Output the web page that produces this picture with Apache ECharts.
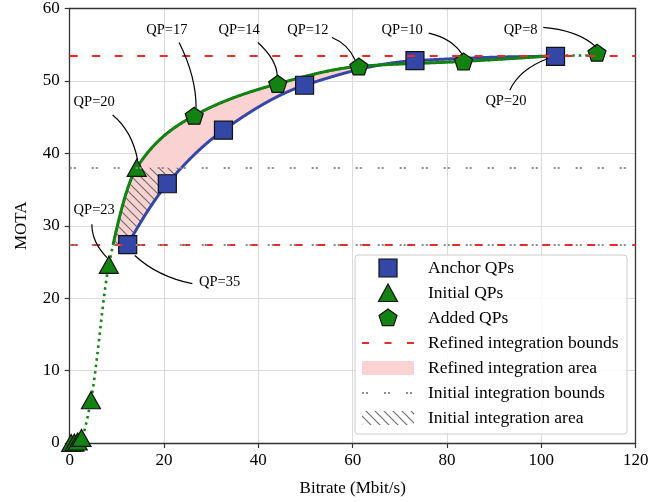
<!DOCTYPE html>
<html><head><meta charset="utf-8">
<script src="https://cdn.jsdelivr.net/npm/echarts@6/dist/echarts.min.js"></script>
<style>html,body{margin:0;padding:0;background:#fff}#c{width:672px;height:502px}</style>
</head><body><div id="c"></div><script>
// ---------------- data ----------------
const anchorRate = [12.3, 20.7, 32.6, 49.8, 73.2, 103.0];
const anchorMota = [27.4, 35.8, 43.2, 49.4, 52.8, 53.4];
const initialRate = [0.3, 1.0, 1.7, 2.5, 4.5, 8.3, 14.2];
const initialMota = [0.0, 0.05, 0.2, 0.7, 5.9, 24.6, 38.0];
const addedRate = [26.4, 44.1, 61.3, 83.5, 111.8];
const addedMota = [45.2, 49.6, 52.0, 52.7, 53.9];
const refinedBounds = [27.4, 53.5];
const initialBounds = [27.4, 38.0];
const xTicks = [0, 20, 40, 60, 80, 100, 120];
const yTicks = [0, 10, 20, 30, 40, 50, 60];
// annotations: label, text position, arrow start, arrow bend, arrow end (data coords)
const annoLabels = ['QP=17', 'QP=14', 'QP=12', 'QP=10', 'QP=8', 'QP=20', 'QP=20', 'QP=23', 'QP=35'];
const annoText  = [[20.6,57.0],[35.9,57.0],[50.5,57.0],[70.5,57.0],[95.6,57.0],[92.5,47.2],[5.2,47.1],[5.2,32.1],[31.8,22.2]];
const annoStart = [[23.2,55.3],[39.9,55.3],[55.6,56.0],[76.1,56.6],[100.4,57.4],[93.3,48.7],[9.1,45.3],[4.7,30.2],[26.0,22.0]];
const annoBend  = [[26.8,50.6],[43.9,52.9],[59.0,55.1],[81.0,55.9],[107.8,57.0],[95.3,51.6],[13.2,43.1],[4.7,27.7],[18.6,23.0]];
const annoEnd   = [[26.8,46.3],[44.0,50.7],[60.5,52.9],[83.3,53.6],[111.6,54.7],[101.4,53.1],[14.4,39.1],[7.9,25.6],[13.8,25.9]];
const legendNames = ['Anchor QPs','Initial QPs','Added QPs','Refined integration bounds','Refined integration area','Initial integration bounds','Initial integration area'];

// ---------------- styles ----------------
const FONT = '"Liberation Serif", "Times New Roman", serif';
const GREEN = '#128212', BLUE = '#3446a6', RED = '#e52b2b', PINK = '#f9d2d1', GRAY = '#8c8c8c';
const RED_DASH = [8, 14.5], GRAY_DOT = [2, 2, 2, 16], GREEN_DOT = [2.5, 4];

function hatchCanvas() {
  const s = 9, c = document.createElement('canvas');
  c.width = s; c.height = s;
  const g = c.getContext('2d');
  g.strokeStyle = '#707070'; g.lineWidth = 1.2;
  g.beginPath();
  g.moveTo(-1, -1); g.lineTo(s + 1, s + 1);
  g.moveTo(s - 1, -1); g.lineTo(s + 1, 1);
  g.moveTo(-1, s - 1); g.lineTo(1, s + 1);
  g.stroke();
  return c;
}
const HATCH = { image: hatchCanvas(), repeat: 'repeat' };

function pchip(xs, ys) {
  const n = xs.length, h = [], d = [];
  for (let i = 0; i < n - 1; i++) { h[i] = xs[i + 1] - xs[i]; d[i] = (ys[i + 1] - ys[i]) / h[i]; }
  const m = new Array(n).fill(0);
  for (let i = 1; i < n - 1; i++) {
    if (d[i - 1] * d[i] <= 0) m[i] = 0;
    else { const w1 = 2 * h[i] + h[i - 1], w2 = h[i] + 2 * h[i - 1]; m[i] = (w1 + w2) / (w1 / d[i - 1] + w2 / d[i]); }
  }
  const edge = (h0, h1, d0, d1) => {
    let mm = ((2 * h0 + h1) * d0 - h0 * d1) / (h0 + h1);
    if (Math.sign(mm) !== Math.sign(d0)) mm = 0;
    else if (Math.sign(d0) !== Math.sign(d1) && Math.abs(mm) > 3 * Math.abs(d0)) mm = 3 * d0;
    return mm;
  };
  m[0] = edge(h[0], h[1], d[0], d[1]);
  m[n - 1] = edge(h[n - 2], h[n - 3], d[n - 2], d[n - 3]);
  return function (x) {
    let i = 0; while (i < n - 2 && x > xs[i + 1]) i++;
    const t = (x - xs[i]) / h[i], t2 = t * t, t3 = t2 * t;
    return (2 * t3 - 3 * t2 + 1) * ys[i] + (t3 - 2 * t2 + t) * h[i] * m[i] + (-2 * t3 + 3 * t2) * ys[i + 1] + (t3 - t2) * h[i] * m[i + 1];
  };
}
function crossX(f, a, b, target) {
  for (let k = 0; k < 60; k++) { const mid = (a + b) / 2; if (f(mid) < target) a = mid; else b = mid; }
  return (a + b) / 2;
}
function samples(f, x0, x1) {
  const out = [], step = 0.05;
  for (let x = x0; x < x1; x += step) out.push([x, f(x)]);
  out.push([x1, f(x1)]);
  return out;
}

const greenPts = initialRate.map((x, i) => [x, initialMota[i]]).concat(addedRate.map((x, i) => [x, addedMota[i]])).sort((a, b) => a[0] - b[0]);
const greenX = greenPts.map(p => p[0]), greenY = greenPts.map(p => p[1]);

function renderCurves(params, api) {
  const gF = pchip(greenX, greenY), bF = pchip(anchorRate, anchorMota);
  const lo = refinedBounds[0], hi = refinedBounds[1], iHi = initialBounds[1];
  const xEnd = anchorRate[anchorRate.length - 1];
  const gAll = samples(gF, greenX[0], greenX[greenX.length - 1]);
  const gStart = crossX(gF, greenX[0], xEnd, lo);
  const gSolid = samples(gF, gStart, xEnd);
  const bAll = samples(bF, anchorRate[0], xEnd);
  const px = pts => pts.map(p => api.coord([p[0], Math.min(p[1], hi)]));
  const pinkPoly = gSolid.concat(bAll.slice().reverse());
  const gx38 = crossX(gF, gStart, xEnd, iHi), bx38 = crossX(bF, anchorRate[0], xEnd, iHi);
  const hatchPoly = samples(gF, gStart, gx38).concat(samples(bF, anchorRate[0], bx38).reverse());
  return {
    type: 'group', children: [
      { type: 'polygon', shape: { points: px(pinkPoly) }, style: { fill: PINK, stroke: null } },
      { type: 'polygon', shape: { points: px(hatchPoly) }, style: { fill: HATCH, stroke: null } },
      { type: 'polyline', shape: { points: px(gAll) }, style: { stroke: GREEN, lineWidth: 2.6, lineDash: GREEN_DOT, fill: null } },
      { type: 'polyline', shape: { points: px(bAll) }, style: { stroke: BLUE, lineWidth: 3, fill: null } },
      { type: 'polyline', shape: { points: px(gSolid) }, style: { stroke: GREEN, lineWidth: 3, fill: null } }
    ]
  };
}

function renderAnno(params, api) {
  const i = params.dataIndex;
  const t = api.coord(annoText[i]), s = api.coord(annoStart[i]), c = api.coord(annoBend[i]), e = api.coord(annoEnd[i]);
  return {
    type: 'group', children: [
      { type: 'bezierCurve', shape: { x1: s[0], y1: s[1], cpx1: c[0], cpy1: c[1], x2: e[0], y2: e[1] }, style: { stroke: '#000', lineWidth: 1.2, fill: null } },
      { type: 'text', style: { text: annoLabels[i], x: t[0], y: t[1], align: 'center', verticalAlign: 'middle', font: '14.5px ' + FONT, fill: '#000' } }
    ]
  };
}

const PENTAGON = 'path://M0,-1L0.951,-0.309L0.588,0.809L-0.588,0.809L-0.951,-0.309Z';
const markerStyle = (c) => ({ color: c, borderColor: '#111', borderWidth: 1.2, opacity: 1 });

// ---------------- legend (drawn as graphics) ----------------
const LX = 388, LT = 268, LS = 25, TX = 428;
const legendGraphics = [
  { type: 'rect', shape: { x: 355, y: 255, width: 272, height: 179, r: 3 }, style: { fill: 'rgba(255,255,255,0.85)', stroke: '#cccccc', lineWidth: 1 } },
  { type: 'rect', shape: { x: LX - 9, y: LT - 9, width: 18, height: 18 }, style: { fill: BLUE, stroke: '#111', lineWidth: 1.2 } },
  { type: 'polygon', shape: { points: [[LX, LT + LS - 9], [LX + 9.5, LT + LS + 8.5], [LX - 9.5, LT + LS + 8.5]] }, style: { fill: GREEN, stroke: '#111', lineWidth: 1.2 } },
  { type: 'polygon', shape: { points: [[LX, LT + 2 * LS - 9], [LX + 9, LT + 2 * LS - 2.5], [LX + 5.6, LT + 2 * LS + 7.6], [LX - 5.6, LT + 2 * LS + 7.6], [LX - 9, LT + 2 * LS - 2.5]] }, style: { fill: GREEN, stroke: '#111', lineWidth: 1.2 } },
  { type: 'line', shape: { x1: LX - 26, y1: LT + 3 * LS, x2: LX + 27, y2: LT + 3 * LS }, style: { stroke: RED, lineWidth: 2.2, lineDash: [7, 15.5] } },
  { type: 'rect', shape: { x: LX - 26, y: LT + 4 * LS - 7, width: 52, height: 14 }, style: { fill: PINK } },
  { type: 'line', shape: { x1: LX - 26, y1: LT + 5 * LS, x2: LX + 27, y2: LT + 5 * LS }, style: { stroke: GRAY, lineWidth: 2, lineDash: GRAY_DOT } },
  { type: 'rect', shape: { x: LX - 26, y: LT + 6 * LS - 7, width: 52, height: 14 }, style: { fill: HATCH } }
];
legendNames.forEach((n, i) => legendGraphics.push({ type: 'text', style: { text: n, x: TX, y: LT + i * LS, verticalAlign: 'middle', font: '17.5px ' + FONT, fill: '#000' } }));

// ---------------- chart ----------------
const chart = echarts.init(document.getElementById('c'), null, { renderer: 'canvas' });
const axisCommon = {
  type: 'value',
  axisLine: { show: true, onZero: false, lineStyle: { color: '#333', width: 1.3 } },
  axisTick: { show: true, inside: false, length: 5, lineStyle: { color: '#333', width: 1.2 } },
  splitLine: { show: true, lineStyle: { color: '#dadada', width: 1 } },
  nameLocation: 'middle',
  nameTextStyle: { fontFamily: FONT, fontSize: 17, color: '#000' }
};
const boxAxis = { type: 'value', axisLine: { show: true, onZero: false, lineStyle: { color: '#333', width: 1.3 } }, axisTick: { show: false }, axisLabel: { show: false }, splitLine: { show: false } };
chart.setOption({
  animation: false,
  backgroundColor: '#fff',
  grid: { left: 69.7, right: 36.3, top: 8.3, bottom: 57.7 },
  xAxis: [
    Object.assign({}, axisCommon, { min: xTicks[0], max: xTicks[xTicks.length - 1], interval: xTicks[1] - xTicks[0], name: 'Bitrate (Mbit/s)', nameGap: 37,
      axisLabel: { margin: 9, fontFamily: FONT, fontSize: 17, color: '#000' } }),
    Object.assign({}, boxAxis, { position: 'top', min: xTicks[0], max: xTicks[xTicks.length - 1] })
  ],
  yAxis: [
    Object.assign({}, axisCommon, { min: yTicks[0], max: yTicks[yTicks.length - 1], interval: yTicks[1] - yTicks[0], name: 'MOTA', nameGap: 40,
      axisLabel: { margin: 10, fontFamily: FONT, fontSize: 17, color: '#000' } }),
    Object.assign({}, boxAxis, { position: 'right', min: yTicks[0], max: yTicks[yTicks.length - 1] })
  ],
  series: [
    { type: 'custom', name: 'curves', z: 2, silent: true, data: [[0, 0]], renderItem: renderCurves },
    { type: 'scatter', name: legendNames[0], z: 3, symbol: 'rect', symbolSize: 18, itemStyle: markerStyle(BLUE), data: anchorRate.map((x, i) => [x, anchorMota[i]]) },
    { type: 'scatter', name: legendNames[1], z: 3, symbol: 'triangle', symbolSize: [19, 17], itemStyle: markerStyle(GREEN), data: initialRate.map((x, i) => [x, initialMota[i]]) },
    { type: 'scatter', name: legendNames[2], z: 3, symbol: PENTAGON, symbolSize: [18, 17], itemStyle: markerStyle(GREEN), data: addedRate.map((x, i) => [x, addedMota[i]]) },
    { type: 'line', name: legendNames[3], z: 4, data: [], markLine: { silent: true, symbol: ['none', 'none'], label: { show: false }, lineStyle: { color: RED, width: 2.2, type: RED_DASH }, data: refinedBounds.map(v => ({ yAxis: v })) } },
    { type: 'line', name: legendNames[5], z: 4, data: [], markLine: { silent: true, symbol: ['none', 'none'], label: { show: false }, lineStyle: { color: GRAY, width: 2, type: GRAY_DOT }, data: initialBounds.map(v => ({ yAxis: v })) } },
    { type: 'custom', name: 'annotations', z: 5, silent: true, data: annoText, renderItem: renderAnno }
  ],
  graphic: legendGraphics.map(g => Object.assign({ z: 100 }, g))
});
</script></body></html>
